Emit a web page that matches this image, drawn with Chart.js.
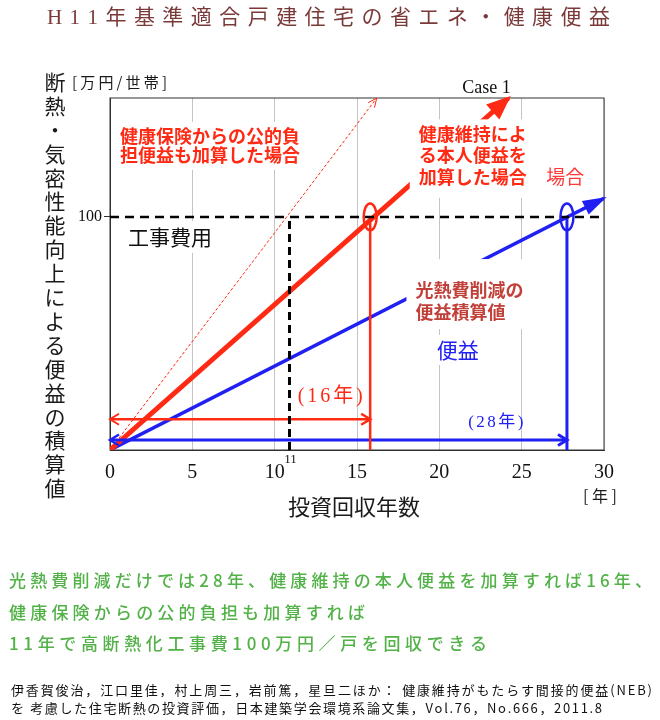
<!DOCTYPE html>
<html>
<head>
<meta charset="utf-8">
<script src="https://cdn.jsdelivr.net/npm/chart.js@4.4.1/dist/chart.umd.min.js"></script>
<style>
  html, body { margin: 0; padding: 0; background: #fff; }
  #myChart { display: block; }
</style>
</head>
<body>
<canvas id="myChart" width="660" height="720"></canvas>
<script>
// --- data ---
const xTicks = [0, 5, 10, 15, 20, 25, 30];      // 投資回収年数 [年]
const yTicks = [100];                            // only labelled tick
const costLevel = 100;                           // 工事費用 [万円/世帯]
const paybackYears = [10.9, 15.8, 27.75];        // 公的負担込み / 本人便益込み / 光熱費のみ

const publicX = [0, 16.2];   const publicY = [0, 151];   // 健康保険からの公的負担便益も加算
const healthX = [0, 24.2];   const healthY = [0, 151];   // 健康維持による本人便益を加算 (Case 1)
const energyX = [0, 30];     const energyY = [0, 108];   // 光熱費削減の便益積算値
const spanY = [13.2, 4.3];                               // height of the (16年) / (28年) arrows

const RED = '#ff2a14';
const BLUE = '#2020f2';
const JP = "'Noto Sans CJK JP', sans-serif";
const SERIF = "'Liberation Serif', 'Noto Sans CJK JP', serif";

const pts = (xs, ys) => xs.map((x, i) => ({ x, y: ys[i] }));

const datasets = [
  { data: pts(publicX, publicY), borderColor: RED, borderWidth: 1, borderDash: [3, 2], order: 2 },
  { data: pts(healthX, healthY), borderColor: RED, borderWidth: 5, borderCapStyle: 'butt', order: 2 },
  { data: pts(energyX, energyY), borderColor: BLUE, borderWidth: 3.5, borderCapStyle: 'butt', order: 2 },
  // cost level and payback verticals
  { data: pts([0, 30], [costLevel, costLevel]), borderColor: '#000', borderWidth: 2.5, borderDash: [9, 6], order: 0 },
  { data: pts([paybackYears[0], paybackYears[0]], [0, costLevel]), borderColor: '#000', borderWidth: 3, borderDash: [8, 5], order: 0 },
  { data: pts([paybackYears[1], paybackYears[1]], [0, costLevel]), borderColor: RED, borderWidth: 2.5, order: 1 },
  { data: pts([paybackYears[2], paybackYears[2]], [0, costLevel]), borderColor: BLUE, borderWidth: 3, order: 1 },
  // year spans
  { data: pts([0, paybackYears[1]], [spanY[0], spanY[0]]), borderColor: RED, borderWidth: 2.5, order: 1 },
  { data: pts([0, paybackYears[2]], [spanY[1], spanY[1]]), borderColor: BLUE, borderWidth: 3, order: 1 },
];

// text notes inside the plot (x/y in data units, y = first line centre)
const notes = [
  { lines: ['健康保険からの公的負', '担便益も加算した場合'], x: 0.6, y: 134.5, lh: 19,
    font: 'bold 18px ' + JP, color: RED, pad: [5, 5, 5, 4] },
  { lines: ['健康維持によ', 'る本人便益を', '加算した場合'], x: 18.75, y: 135.5, lh: 21.5,
    font: 'bold 18px ' + JP, color: RED, pad: [4, 8, 10, 9] },
  { lines: ['場合'], x: 26.5, y: 117, lh: 20, font: '19px ' + JP, color: '#ff3838', pad: [3, 3, 3, 3] },
  { lines: ['工事費用'], x: 1.1, y: 91.4, lh: 22, font: '21px ' + JP, color: '#111', pad: [5, 5, 5, 5] },
  { lines: ['光熱費削減の', '便益積算値'], x: 18.55, y: 68.6, lh: 22,
    font: 'bold 18px ' + JP, color: '#c2403a', pad: [20, 8, 6, 9] },
  { lines: ['便益'], x: 19.85, y: 42.9, lh: 22, font: '21px ' + JP, color: BLUE, pad: [4, 4, 4, 4] },
  { lines: ['(16年)'], x: 11.4, right: 15.35, y: 22.7, lh: 22, font: '20px ' + SERIF, color: RED },
  { lines: ['(28年)'], x: 21.75, right: 25.1, y: 11.6, lh: 20, font: '17px ' + SERIF, color: BLUE },
];

function fitText(ctx, text, x, y, width) {
  const chars = Array.from(text);
  const natural = chars.reduce((s, c) => s + ctx.measureText(c).width, 0);
  const gap = chars.length > 1 ? (width - natural) / (chars.length - 1) : 0;
  ctx.textAlign = 'left';
  let cx = x;
  for (const c of chars) {
    ctx.fillText(c, cx, y);
    cx += ctx.measureText(c).width + gap;
  }
}

function head(ctx, from, to, len, half, filled, color, lw) {
  const a = Math.atan2(to.y - from.y, to.x - from.x);
  const bx = to.x - len * Math.cos(a), by = to.y - len * Math.sin(a);
  const px = -Math.sin(a) * half, py = Math.cos(a) * half;
  ctx.save();
  ctx.strokeStyle = color; ctx.fillStyle = color; ctx.lineWidth = lw || 1.5;
  ctx.setLineDash([]);
  ctx.beginPath();
  ctx.moveTo(bx + px, by + py);
  ctx.lineTo(to.x, to.y);
  ctx.lineTo(bx - px, by - py);
  if (filled) { ctx.closePath(); ctx.fill(); } else { ctx.stroke(); }
  ctx.restore();
}

const decor = {
  id: 'decor',
  beforeDatasetsDraw(chart) {
    const { ctx, chartArea: a } = chart;
    ctx.save();
    ctx.strokeStyle = '#333';
    ctx.lineWidth = 1;
    ctx.strokeRect(a.left, a.top, a.right - a.left, a.bottom - a.top);
    ctx.restore();
  },
  afterDatasetsDraw(chart) {
    const { ctx, scales: { x, y } } = chart;
    const P = (vx, vy) => ({ x: x.getPixelForValue(vx), y: y.getPixelForValue(vy) });
    const seg = i => chart.getDatasetMeta(i).data;

    // notes with white backing (drawn first so arrow heads stay on top)
    ctx.save();
    ctx.textBaseline = 'middle';
    notes.forEach(n => {
      ctx.font = n.font;
      const left = x.getPixelForValue(n.x);
      const top = y.getPixelForValue(n.y);
      const w = n.right != null ? x.getPixelForValue(n.right) - left
        : Math.max(...n.lines.map(l => ctx.measureText(l).width));
      if (n.pad) {
        const [pt, pr, pb, pl] = n.pad;
        const h = n.lh * n.lines.length;
        ctx.fillStyle = '#fff';
        ctx.fillRect(left - pl, top - n.lh / 2 - pt, w + pl + pr, h + pt + pb);
      }
      ctx.fillStyle = n.color;
      n.lines.forEach((l, i) => {
        if (n.right != null) fitText(ctx, l, left, top + i * n.lh, w);
        else { ctx.textAlign = 'left'; ctx.fillText(l, left, top + i * n.lh); }
      });
    });
    ctx.restore();

    // arrow heads on the cumulative lines
    let d = seg(0);
    head(ctx, d[0], d[1], 9, 4, false, RED, 1);
    d = seg(1);
    const a1 = Math.atan2(d[1].y - d[0].y, d[1].x - d[0].x);
    head(ctx, d[0], { x: d[1].x + 3 * Math.cos(a1), y: d[1].y + 3 * Math.sin(a1) }, 24, 10, true, RED);
    d = seg(2);
    const a2 = Math.atan2(d[1].y - d[0].y, d[1].x - d[0].x);
    head(ctx, d[0], { x: d[1].x + 3 * Math.cos(a2), y: d[1].y + 3 * Math.sin(a2) }, 24, 7.5, true, BLUE);

    // span arrows, both ends
    d = seg(7);
    head(ctx, d[1], d[0], 9, 5.5, false, RED, 2);
    head(ctx, d[0], d[1], 9, 5.5, false, RED, 2.5);
    d = seg(8);
    head(ctx, d[1], d[0], 9, 5.5, false, BLUE, 2.5);
    head(ctx, d[0], d[1], 9, 5.5, false, BLUE, 3);

    // rings where the lines reach the cost level
    [[paybackYears[1], RED], [paybackYears[2], BLUE]].forEach(([yr, c]) => {
      const p = P(yr, costLevel);
      ctx.save();
      ctx.strokeStyle = c; ctx.lineWidth = 2.5;
      ctx.beginPath();
      ctx.ellipse(p.x, p.y, 6.5, 13.5, 0, 0, Math.PI * 2);
      ctx.stroke();
      ctx.restore();
    });

    // small "11" under the axis, and Case 1 above the frame
    ctx.save();
    ctx.textBaseline = 'middle';
    ctx.fillStyle = '#111';
    ctx.textAlign = 'center';
    ctx.font = '13px ' + SERIF;
    ctx.fillText('11', x.getPixelForValue(paybackYears[0]) + 1, y.getPixelForValue(0) + 10);
    ctx.font = '18px ' + SERIF;
    ctx.fillText('Case 1', x.getPixelForValue(healthX[1]) - 22, chart.chartArea.top - 10);
    ctx.restore();
  },
  afterDraw(chart) {
    const { ctx } = chart;
    ctx.save();
    ctx.textBaseline = 'middle';

    ctx.fillStyle = '#7b3a3a';
    ctx.font = '21px ' + SERIF;
    fitText(ctx, 'H11年基準適合戸建住宅の省エネ・健康便益', 47, 18, 563);

    ctx.fillStyle = '#1a1a1a';
    ctx.font = '21px ' + JP;
    ctx.textAlign = 'center';
    Array.from('断熱・気密性能向上による便益の積算値').forEach((c, i) => {
      ctx.fillText(c, 55, 82 + i * 23.9);
    });
    ctx.font = '15px ' + JP;
    fitText(ctx, '[万円/世帯]', 72, 82, 95);

    ctx.font = '22px ' + JP;
    fitText(ctx, '投資回収年数', 288, 507, 132);
    ctx.font = '16px ' + JP;
    fitText(ctx, '[年]', 583, 496, 34);

    ctx.fillStyle = '#52b248';
    ctx.font = '500 17px ' + JP;
    fitText(ctx, '光熱費削減だけでは28年、健康維持の本人便益を加算すれば16年、', 9, 581, 643);
    fitText(ctx, '健康保険からの公的負担も加算すれば', 9, 613, 356);
    fitText(ctx, '11年で高断熱化工事費100万円／戸を回収できる', 9, 644, 478);

    ctx.fillStyle = '#111';
    ctx.font = '13px ' + JP;
    fitText(ctx, '伊香賀俊治，江口里佳，村上周三，岩前篤，星旦二ほか： 健康維持がもたらす間接的便益(NEB)', 11, 690, 641);
    fitText(ctx, 'を 考慮した住宅断熱の投資評価，日本建築学会環境系論文集，Vol.76，No.666，2011.8', 11, 708, 591);
    ctx.restore();
  }
};

const ctx = document.getElementById('myChart').getContext('2d');

const config = {
  type: 'line',
  data: { datasets },
  options: {
    responsive: false,
    animation: false,
    devicePixelRatio: 1,
    layout: { padding: { left: 0, right: 56, top: 98, bottom: 230 } },
    elements: { point: { radius: 0 }, line: { tension: 0, fill: false } },
    plugins: {
      legend: { display: false },
      tooltip: { enabled: false },
    },
    scales: {
      x: {
        type: 'linear',
        min: 0,
        max: 30,
        afterBuildTicks: s => { s.ticks = xTicks.map(v => ({ value: v })); },
        afterFit: s => { s.height = 40; },
        grid: { color: '#c4c4c4', lineWidth: 1, drawTicks: false },
        border: { color: '#333', width: 1 },
        ticks: { font: { family: 'Liberation Serif', size: 20 }, color: '#111', padding: 11, maxRotation: 0 },
      },
      y: {
        type: 'linear',
        min: 0,
        max: 151,
        afterBuildTicks: s => { s.ticks = yTicks.map(v => ({ value: v })); },
        afterFit: s => { s.width = 110; },
        grid: { drawOnChartArea: false, tickLength: 6, color: '#333' },
        border: { color: '#333', width: 1 },
        ticks: { font: { family: 'Liberation Serif', size: 16 }, color: '#111', padding: 2 },
      },
    },
  },
  plugins: [decor],
};

const myChart = new Chart(ctx, config);
</script>
</body>
</html>
